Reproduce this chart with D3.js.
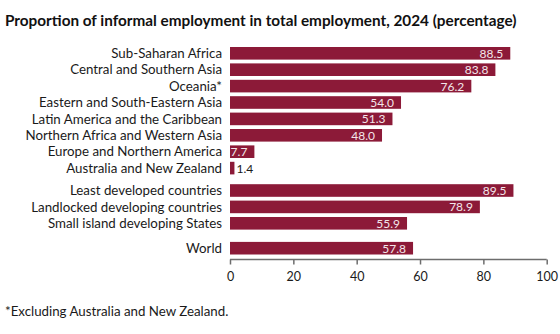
<!DOCTYPE html>
<html><head><meta charset="utf-8">
<script src="https://cdn.jsdelivr.net/npm/d3@7"></script>
<style>body{margin:0;background:#fff}svg{display:block}</style>
</head><body>
<svg id="c" width="560" height="334"></svg>
<script>
const title = "Proportion of informal employment in total employment, 2024 (percentage)";
const footnote = "*Excluding Australia and New Zealand.";
const regions = ["Sub-Saharan Africa","Central and Southern Asia","Oceania*","Eastern and South-Eastern Asia","Latin America and the Caribbean","Northern Africa and Western Asia","Europe and Northern America","Australia and New Zealand"];
const regionValues = [88.5,83.8,76.2,54.0,51.3,48.0,7.7,1.4];
const groupings = ["Least developed countries","Landlocked developing countries","Small island developing States"];
const groupingValues = [89.5,78.9,55.9];
const world = ["World"];
const worldValues = [57.8];
const xTicks = [0,20,40,60,80,100];

const groups = [[regions, regionValues],[groupings, groupingValues],[world, worldValues]];
const rows = [];
groups.forEach((g,gi)=>g[0].forEach((name,i)=>rows.push({name, value:g[1][i], group:gi})));

const svg = d3.select("#c");
const font = "Lato, 'Open Sans', sans-serif";
const barColor = "#8c1a38";

const x = d3.scaleLinear().domain([0,100]).range([230,546.7]);
const pitch = 16.4, barH = 12.6, top0 = 47;
const groupOffset = [0, 6, 14.5];
const yPos = rows.map((r,i)=> top0 + i*pitch + groupOffset[r.group]);

svg.append("text").attr("x",5).attr("y",25.5)
  .attr("font-family",font).attr("font-weight","bold").attr("font-size",15.3)
  .attr("fill","#111").text(title);

const g = svg.append("g");
g.selectAll("rect").data(rows).join("rect")
  .attr("x",x(0)).attr("y",(d,i)=>yPos[i])
  .attr("width",d=>x(d.value)-x(0)).attr("height",barH)
  .attr("fill",barColor);

g.selectAll("text.cat").data(rows).join("text").attr("class","cat")
  .attr("x",222).attr("y",(d,i)=>yPos[i]+barH/2).attr("dy","0.35em")
  .attr("text-anchor","end").attr("font-family",font).attr("font-size",13.3)
  .attr("fill","#1a1a1a").text(d=>d.name);

g.selectAll("text.val").data(rows).join("text").attr("class","val")
  .attr("x",d=> d.value<5 ? x(d.value)+2 : x(d.value)-7)
  .attr("y",(d,i)=>yPos[i]+barH/2).attr("dy","0.37em")
  .attr("text-anchor",d=>d.value<5?"start":"end")
  .attr("font-family",font).attr("font-size",12)
  .attr("fill",d=>d.value<5?"#1a1a1a":"#f3e6ea")
  .text(d=>d3.format(".1f")(d.value));

const axisY = 259.5;
const ax = svg.append("g").attr("transform",`translate(0,${axisY})`)
  .call(d3.axisBottom(x).tickValues(xTicks).tickSize(5).tickPadding(8).tickFormat(d3.format("d")));
ax.select(".domain").attr("stroke","#6d6d6d").attr("stroke-width",1.5).attr("d",`M${x(0)},0H${x(100)}`);
ax.selectAll(".tick line").attr("stroke","#6d6d6d").attr("stroke-width",1.5);
ax.selectAll(".tick text").attr("font-family",font).attr("font-size",12.5).attr("fill","#1a1a1a");

svg.append("text").attr("x",5).attr("y",316)
  .attr("font-family",font).attr("font-size",13.3).attr("fill","#1a1a1a").text(footnote);
</script>
</body></html>
